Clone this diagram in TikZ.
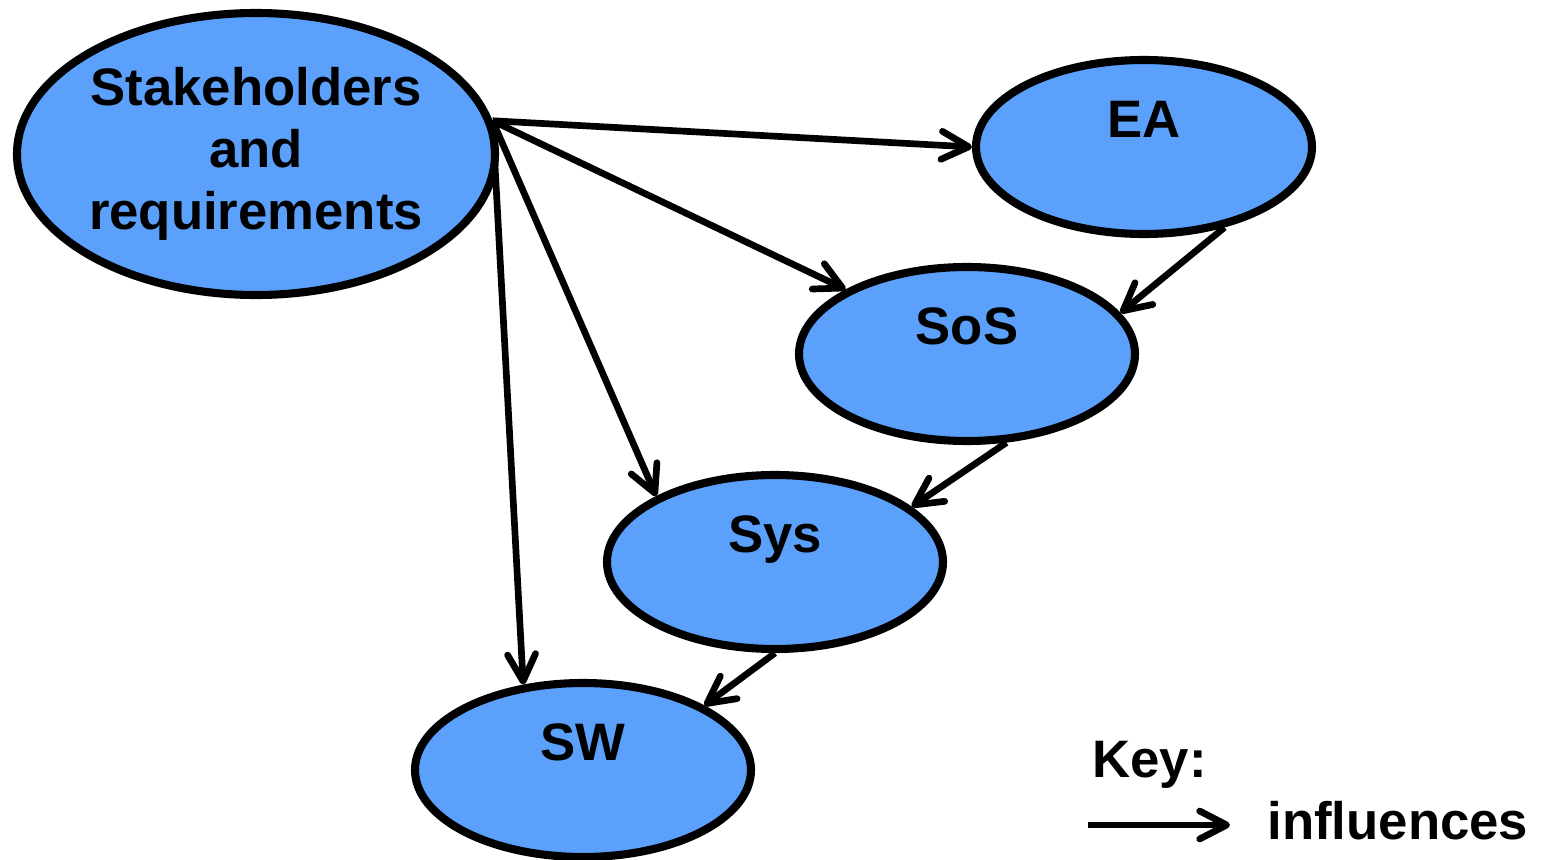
\documentclass[tikz,border=0pt]{standalone}
\usepackage{fontspec}
\setmainfont{Liberation Sans}
\usetikzlibrary{arrows.meta,shapes.geometric}
\definecolor{blobblue}{RGB}{91,160,250}

\begin{document}
\begin{tikzpicture}[
        every node/.style={font=\fontsize{15}{17.6}\selectfont\bfseries},
        blob/.style={ellipse, draw, line width=2.3pt, fill=blobblue, inner sep=0pt},
        small blob/.style={blob, minimum width=3.36cm, minimum height=1.74cm,
                text height=0.4cm, text depth=0.6cm},
        infl/.style={line width=1.9pt,
                -{Straight Barb[length=2.7mm,width=2.8mm,line cap=round,line join=round]}}
    ]
	\useasboundingbox (0,0) rectangle (15.41,-8.60);
	\node[blob, minimum width=4.78cm, minimum height=2.82cm, align=center] (stake) at (2.56,-1.54) {Stakeholders\\and\\requirements};
	\node[small blob] (ea) at (11.44,-1.47) {EA};
	\node[small blob] (sos) at (9.67,-3.54) {SoS};
	\node[small blob] (sys) at (7.75,-5.62) {Sys};
	\node[small blob] (sw) at (5.83,-7.70) {SW};
	\foreach \a/\b in {stake.8/ea.west, stake.8/sos.152, stake.8/sys.151, stake.8/sw.125,
	                   ea.-45/sos.15, sos.-66/sys.22, sys.south/sw.28}
		{
		  \draw[infl] (\a) -- (\b);
		};
	% key
	\node[anchor=base west] (key) at (10.80,-7.77) {Key:};
	\coordinate (key-a) at (10.88,-8.25);
	\coordinate (key-b) at (12.30,-8.25);
	\draw[infl] (key-a) -- (key-b);
	\node[anchor=base west] (key-txt) at (12.55,-8.39) {influences};
\end{tikzpicture}
\end{document}
